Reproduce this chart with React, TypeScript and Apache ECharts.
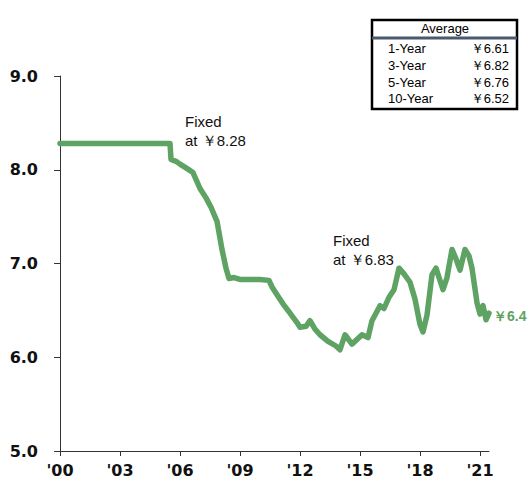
import React, { useEffect, useRef } from "react";
import * as echarts from "echarts";

// Years since 2000 and USD/CNY rate
const yearOffsets = [
  0.0, 2.0, 5.5, 5.55, 5.8, 6.0, 6.3, 6.65, 7.0, 7.3, 7.55, 7.85, 8.1, 8.3, 8.45,
  8.7, 9.0, 9.5, 10.0, 10.45, 10.6, 10.9, 11.15, 11.5, 11.85, 12.0, 12.3, 12.5,
  12.75, 13.0, 13.4, 13.8, 14.0, 14.25, 14.6, 14.9, 15.1, 15.4, 15.6, 16.0, 16.2,
  16.45, 16.7, 16.95, 17.2, 17.5, 17.75, 18.0, 18.15, 18.35, 18.6, 18.8, 19.15,
  19.35, 19.6, 19.8, 20.0, 20.25, 20.45, 20.6, 20.85, 21.0, 21.15, 21.3, 21.45,
];
const rates = [
  8.28, 8.28, 8.28, 8.11, 8.09, 8.06, 8.02, 7.97, 7.8, 7.7, 7.6, 7.45, 7.15, 6.95,
  6.84, 6.85, 6.83, 6.83, 6.83, 6.82, 6.75, 6.65, 6.57, 6.47, 6.37, 6.32, 6.33,
  6.39, 6.3, 6.24, 6.17, 6.12, 6.08, 6.24, 6.14, 6.2, 6.24, 6.21, 6.39, 6.55, 6.52,
  6.64, 6.72, 6.95, 6.89, 6.8, 6.62, 6.35, 6.27, 6.45, 6.88, 6.95, 6.72, 6.85,
  7.15, 7.05, 6.93, 7.15, 7.08, 6.95, 6.58, 6.46, 6.55, 6.4, 6.47,
];
const xTicks = [0, 3, 6, 9, 12, 15, 18, 21];
const xTickLabels = ["'00", "'03", "'06", "'09", "'12", "'15", "'18", "'21"];
const avgLabels = ["1-Year", "3-Year", "5-Year", "10-Year"];
const avgValues = ["￥6.61", "￥6.82", "￥6.76", "￥6.52"];
const lastLabel = "￥6.4";

const GREEN = "#5ea363";

export default function App() {
  const ref = useRef<HTMLDivElement>(null);
  useEffect(() => {
    if (!ref.current) return;
    document.body.style.margin = "0";
    const chart = echarts.init(ref.current, null, { renderer: "svg" });
    const data = yearOffsets.map((x, i) => [x, rates[i]]);
    const rowY = [48, 65, 82, 98];
    const legendChildren: any[] = [
      {
        type: "rect",
        shape: { x: 372, y: 20, width: 145, height: 89 },
        style: { fill: "#fff", stroke: "#000", lineWidth: 2.5 },
      },
      {
        type: "line",
        shape: { x1: 372, y1: 38, x2: 517, y2: 38 },
        style: { stroke: "#4a5870", lineWidth: 3 },
      },
      {
        type: "text",
        x: 445,
        y: 28,
        style: {
          text: "Average",
          fontFamily: "Liberation Sans",
          fontSize: 13,
          fill: "#000",
          align: "center",
          verticalAlign: "middle",
        },
      },
    ];
    avgLabels.forEach((l, i) => {
      legendChildren.push({
        type: "text",
        x: 388,
        y: rowY[i],
        style: {
          text: l,
          fontFamily: "Liberation Sans",
          fontSize: 13,
          fill: "#000",
          align: "left",
          verticalAlign: "middle",
        },
      });
      legendChildren.push({
        type: "text",
        x: 509,
        y: rowY[i],
        style: {
          text: avgValues[i],
          fontFamily: "Liberation Sans",
          fontSize: 13,
          fill: "#000",
          align: "right",
          verticalAlign: "middle",
        },
      });
    });

    chart.setOption({
      animation: false,
      grid: { left: 60, right: 41, top: 76, bottom: 40, containLabel: false },
      xAxis: {
        type: "value",
        min: 0,
        max: 21.45,
        interval: 3,
        splitLine: { show: false },
        axisLine: { show: true, lineStyle: { color: "#333", width: 1 } },
        axisTick: {
          show: true,
          length: 5,
          lineStyle: { color: "#333" },
          customValues: xTicks,
        },
        axisLabel: {
          customValues: xTicks,
          margin: 11,
          fontFamily: "DejaVu Sans",
          fontWeight: "bold",
          fontSize: 16,
          color: "#111",
          formatter: (v: number) => {
            const i = xTicks.indexOf(Math.round(v));
            return i >= 0 && Math.abs(v - Math.round(v)) < 1e-6 ? xTickLabels[i] : "";
          },
        },
      },
      yAxis: {
        type: "value",
        min: 5,
        max: 9,
        interval: 1,
        splitLine: { show: false },
        axisLine: { show: true, lineStyle: { color: "#333", width: 1 } },
        axisTick: { show: true, length: 6, lineStyle: { color: "#333" } },
        axisLabel: {
          margin: 22,
          fontFamily: "DejaVu Sans",
          fontWeight: "bold",
          fontSize: 16,
          color: "#111",
          formatter: (v: number) => v.toFixed(1),
        },
      },
      series: [
        {
          type: "line",
          data,
          showSymbol: false,
          symbol: "none",
          lineStyle: { color: GREEN, width: 5.5, join: "round", cap: "round" },
          endLabel: {
            show: true,
            formatter: lastLabel,
            color: GREEN,
            fontWeight: "bold",
            fontFamily: "Liberation Sans",
            fontSize: 14,
            distance: 4,
            offset: [0, 3],
          },
        },
      ],
      graphic: [
        {
          type: "text",
          left: 185,
          top: 112,
          style: {
            text: "Fixed\nat ￥8.28",
            fontFamily: "Liberation Sans",
            fontSize: 15,
            lineHeight: 19,
            fill: "#111",
          },
        },
        {
          type: "text",
          left: 333,
          top: 231,
          style: {
            text: "Fixed\nat ￥6.83",
            fontFamily: "Liberation Sans",
            fontSize: 15,
            lineHeight: 19,
            fill: "#111",
          },
        },
        { type: "group", children: legendChildren },
      ],
    });
    return () => chart.dispose();
  }, []);
  return (
    <div
      ref={ref}
      style={{ width: 530, height: 491, position: "absolute", left: 0, top: 0 }}
    />
  );
}
